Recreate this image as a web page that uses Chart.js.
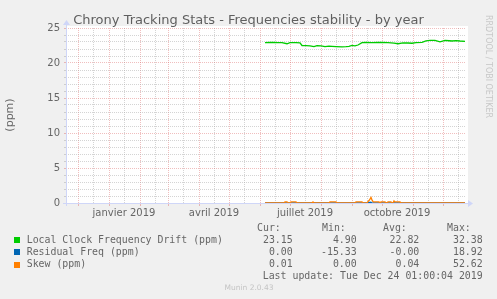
<!DOCTYPE html>
<html><head><meta charset="utf-8">
<script src="https://cdn.jsdelivr.net/npm/chart.js@4"></script>
<style>
html,body{margin:0;padding:0;background:#f0f0f0;}
#wrap{position:relative;width:497px;height:299px;overflow:hidden;background:#f0f0f0;}
canvas{position:absolute;left:0;top:0;}
.t{position:absolute;white-space:pre;color:#666;}
.mono{font-family:"DejaVu Sans Mono",monospace;font-size:9.9px;line-height:12px;}
.sans{font-family:"DejaVu Sans",sans-serif;}
.sw{position:absolute;width:6px;height:6px;}
</style></head><body>
<div id="wrap"><canvas id="c" width="497" height="299"></canvas></div>
<script>
// ---- data ----
const chartTitle = "Chrony Tracking Stats - Frequencies stability - by year";
const yAxisTitle = "(ppm)";
const seriesNames = ["Local Clock Frequency Drift (ppm)", "Residual Freq (ppm)", "Skew (ppm)"];
const seriesColors = ["#00cc00", "#0066b3", "#ff8000"];
// x = days since 2018-11-19 (graph start); graph spans 400 days
const driftDays   = [199,204,208,212,216,221,224,230,234,236,240,244,248,251,255,259,263,266,270,276,280,283,286,289,292,296,300,306,312,316,322,328,332,337,342,346,350,356,360,364,369,374,379,383,386,390,394,399];
const driftValues = [22.90,22.93,22.95,22.90,22.90,22.75,22.90,22.90,22.88,22.50,22.48,22.45,22.35,22.48,22.45,22.33,22.40,22.38,22.35,22.29,22.33,22.38,22.52,22.45,22.57,22.90,22.95,22.92,22.95,22.93,22.90,22.85,22.75,22.88,22.86,22.82,22.90,22.95,23.15,23.22,23.24,23.02,23.24,23.18,23.14,23.19,23.14,23.10];
const residualDays   = [199,300,305,306,307,399];
const residualValues = [0.00,0.00,0.10,-0.05,0.00,0.00];
const skewDays   = [199,218,219,221,222,224,225,230,231,246,247,248,263,264,270,271,289,290,296,297,301,302,303,304,305,306,307,308,313,314,315,319,320,321,322,325,326,327,328,329,334,335,399];
const skewValues = [0,0,0.15,0.15,0,0,0.15,0.15,0,0,0.15,0,0,0.15,0.15,0,0,0.15,0.15,0,0,0.2,0.35,0.55,0.8,0.45,0.2,0.15,0.15,0,0.15,0.15,0,0,0.15,0.15,0,0,0.3,0.15,0.15,0,0];
const statHeaders = ["Cur:","Min:","Avg:","Max:"];
const statCur = ["23.15","0.00","0.01"];
const statMin = ["4.90","-15.33","0.00"];
const statAvg = ["22.82","-0.00","0.04"];
const statMax = ["32.38","18.92","52.62"];
const lastUpdate = "Last update: Tue Dec 24 01:00:04 2019";
const footer = "Munin 2.0.43";
const watermark = "RRDTOOL / TOBI OETIKER";
const xTickLabels = {"2019-0":"janvier 2019","2019-3":"avril 2019","2019-6":"juillet 2019","2019-9":"octobre 2019"};
const yMin = 0, yMax = 25, yStep = 1, yLabelEvery = 5;
const xMin = 0, xMax = 400;

// ---- x ticks (calendar months from graph start) ----
const startMs = Date.UTC(2018,10,19);
const DAY = 86400000;
const xTicks = [];
for (let y = 2018, m = 11; y < 2020 || m === 0; ) {
  const d0 = (Date.UTC(y,m,1) - startMs)/DAY;
  if (d0 > xMax) break;
  xTicks.push({value:d0, major:true, label:""});
  const d1 = d0 + 15;
  if (d1 < xMax) xTicks.push({value:d1, major:false, label: xTickLabels[y+"-"+m] || ""});
  m++; if (m > 11) { m = 0; y++; }
}

// ---- html text ----
const wrap = document.getElementById('wrap');
function addText(txt, cls, css){ const d=document.createElement('div'); d.className='t '+cls; d.textContent=txt; Object.assign(d.style, css); wrap.appendChild(d); return d; }
addText(chartTitle,'sans',{left:'0',width:'497px',textAlign:'center',top:'12px',fontSize:'13px',lineHeight:'16px',color:'#5f5f5f'});
addText(yAxisTitle,'sans',{left:'-20px',width:'60px',textAlign:'center',top:'109px',fontSize:'11px',lineHeight:'12px',transform:'rotate(-90deg)'});
addText(watermark,'sans',{left:'438px',width:'100px',textAlign:'center',top:'60px',fontSize:'8px',lineHeight:'10px',color:'#c8c8c8',transform:'rotate(90deg)'});
const hdrLeft = [257,322,383,447];
statHeaders.forEach((h,i)=>addText(h,'mono',{left:hdrLeft[i]+'px',top:'222px'}));
const rowTops = [234,245.5,257.7];
const swTops = [237,249,261.5];
const valRights = [292.7,356.7,419.3,482.7];
seriesNames.forEach((n,i)=>{
  const s=document.createElement('div'); s.className='sw'; s.style.left='14px'; s.style.top=swTops[i]+'px'; s.style.background=seriesColors[i]; wrap.appendChild(s);
  addText(n,'mono',{left:'26.7px',top:rowTops[i]+'px'});
  [statCur,statMin,statAvg,statMax].forEach((arr,j)=>addText(arr[i],'mono',{right:(497-valRights[j])+'px',top:rowTops[i]+'px',textAlign:'right'}));
});
addText(lastUpdate,'mono',{right:(497-482.7)+'px',top:'269.7px'});
addText(footer,'sans',{left:'0',width:'498px',textAlign:'center',top:'283px',fontSize:'7.5px',lineHeight:'9px',color:'#c4c4c4'});

// ---- chart ----
const AXIS = '#CFD6F8';
const MINOR = 'rgba(170,170,170,0.5)';
const MAJOR = 'rgba(220,100,100,0.42)';
const bgPlugin = {
  id:'bg',
  beforeDraw(chart){
    const {ctx, chartArea:a} = chart;
    ctx.save();
    ctx.fillStyle = '#f0f0f0'; ctx.fillRect(0,0,chart.width,chart.height);
    ctx.fillStyle = '#ffffff'; ctx.fillRect(a.left, a.top-2, a.right-a.left+2, a.bottom-a.top+2);
    ctx.restore();
  },
  afterDraw(chart){
    const {ctx, chartArea:a} = chart;
    ctx.save();
    ctx.strokeStyle = AXIS; ctx.fillStyle = AXIS; ctx.lineWidth = 1;
    ctx.beginPath();
    ctx.moveTo(a.left-3, a.bottom+0.5); ctx.lineTo(a.right+3, a.bottom+0.5);
    ctx.moveTo(a.left+0.5, a.bottom+3); ctx.lineTo(a.left+0.5, a.top-4);
    ctx.stroke();
    ctx.beginPath();
    ctx.moveTo(a.right+7, a.bottom+0.5); ctx.lineTo(a.right+2, a.bottom-3); ctx.lineTo(a.right+2, a.bottom+4); ctx.closePath(); ctx.fill();
    ctx.beginPath();
    ctx.moveTo(a.left+0.5, a.top-8); ctx.lineTo(a.left-3, a.top-3); ctx.lineTo(a.left+4, a.top-3); ctx.closePath(); ctx.fill();
    ctx.restore();
  }
};
const pts = (xs, ys) => xs.map((x,i)=>({x, y: ys[i]}));
new Chart(document.getElementById('c'), {
  type:'line',
  data:{datasets:[
    {label:seriesNames[0], data:pts(driftDays,driftValues), borderColor:seriesColors[0], borderWidth:1.3, order:2},
    {label:seriesNames[1], data:pts(residualDays,residualValues), borderColor:seriesColors[1], borderWidth:1.3, order:1},
    {label:seriesNames[2], data:pts(skewDays,skewValues), borderColor:seriesColors[2], borderWidth:1.3, order:0}
  ]},
  options:{
    responsive:false, animation:false, devicePixelRatio:1,
    layout:{padding:{left:0, right:31, top:28, bottom:76}},
    elements:{point:{radius:0}, line:{tension:0}},
    plugins:{legend:{display:false}, tooltip:{enabled:false}, title:{display:false}},
    scales:{
      x:{type:'linear', min:xMin, max:xMax,
        afterBuildTicks(s){ s.ticks = xTicks.map(t=>({value:t.value})); },
        afterFit(s){ s.height = 20; },
        ticks:{autoSkip:false, maxRotation:0, padding:1, color:'#666', font:{family:'DejaVu Sans', size:10},
          callback(v, i){ return xTicks[i] ? xTicks[i].label : ''; }},
        grid:{drawTicks:true, tickLength:3, lineWidth:1,
          color(c){ const t = xTicks[c.index]; return t && t.major ? MAJOR : MINOR; },
          tickColor(c){ const t = xTicks[c.index]; return t && t.major ? MAJOR : 'rgba(0,0,0,0)'; }},
        border:{display:false, dash:[1,1]}
      },
      y:{type:'linear', min:yMin, max:yMax,
        afterFit(s){ s.width = 66; },
        ticks:{stepSize:yStep, autoSkip:false, padding:4, color:'#666', font:{family:'DejaVu Sans', size:10},
          callback(v){ return v % yLabelEvery === 0 ? String(v) : ''; }},
        grid:{drawTicks:true, tickLength:2, lineWidth:1,
          color(c){ return c.tick && c.tick.value % yLabelEvery === 0 ? MAJOR : MINOR; },
          tickColor(c){ return c.tick && c.tick.value % yLabelEvery === 0 ? MAJOR : MINOR; }},
        border:{display:false, dash:[1,1]}
      }
    }
  },
  plugins:[bgPlugin]
});
</script>
</body></html>
